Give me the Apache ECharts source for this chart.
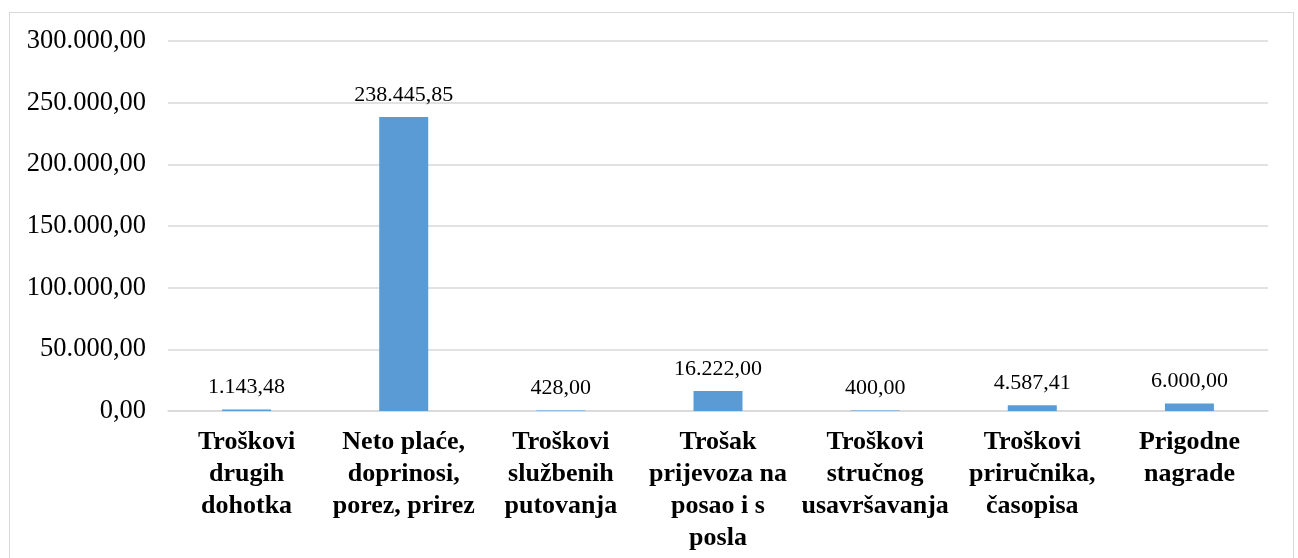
<!DOCTYPE html>
<html>
<head>
<meta charset="utf-8">
<script src="https://cdn.jsdelivr.net/npm/echarts@6/dist/echarts.min.js"></script>
<style>
  html, body { margin: 0; padding: 0; background: #fff; }
  #frame {
    position: absolute; left: 9px; top: 12px;
    width: 1285px; height: 560px;
    border: 1px solid #d9d9d9; box-sizing: border-box;
  }
  #chart { position: absolute; left: 0; top: 0; width: 1298px; height: 558px; }
</style>
</head>
<body>
<div id="frame"></div>
<div id="chart"></div>
<script>
  // kategorije troškova
  const categories = [
    'Troškovi\ndrugih\ndohotka',
    'Neto plaće,\ndoprinosi,\nporez, prirez',
    'Troškovi\nslužbenih\nputovanja',
    'Trošak\nprijevoza na\nposao i s\nposla',
    'Troškovi\nstručnog\nusavršavanja',
    'Troškovi\npriručnika,\nčasopisa',
    'Prigodne\nnagrade'
  ]
  const values = [1143.48, 238445.85, 428.00, 16222.00, 400.00, 4587.41, 6000.00]
  const yMax = 300000
  const yStep = 50000

  // 1234567.8 -> "1.234.567,80"
  function fmt(v) {
    const parts = v.toFixed(2).split('.')
    const int = parts[0].replace(/\B(?=(\d{3})+(?!\d))/g, '.')
    return int + ',' + parts[1]
  }

  const serif = '"Liberation Serif", "DejaVu Serif", serif'
  const myChart = echarts.init(document.getElementById('chart'))
  const option = {
    animation: false,
    grid: { left: 168, right: 30, top: 41, bottom: 147 },
    xAxis: {
      type: 'category',
      data: categories,
      axisLine: { lineStyle: { color: '#d9d9d9', width: 1.5 } },
      axisTick: { show: false },
      axisLabel: {
        interval: 0,
        margin: 15,
        color: '#000',
        fontFamily: serif,
        fontWeight: 'bold',
        fontSize: 26,
        lineHeight: 32,
        verticalAlign: 'top'
      }
    },
    yAxis: {
      type: 'value',
      min: 0,
      max: yMax,
      interval: yStep,
      axisLine: { show: false },
      axisTick: { show: false },
      splitLine: { lineStyle: { color: '#d9d9d9', width: 1.5 } },
      axisLabel: {
        margin: 22,
        color: '#000',
        fontFamily: serif,
        fontSize: 26.5,
        formatter: function (v) { return fmt(v) }
      }
    },
    series: [{
      type: 'bar',
      data: values,
      barWidth: 49,
      itemStyle: { color: '#5b9bd5' },
      label: {
        show: true,
        position: 'top',
        distance: 11,
        color: '#000',
        fontFamily: serif,
        fontSize: 22,
        formatter: function (p) { return fmt(p.value) }
      }
    }]
  }
  myChart.setOption(option)
</script>
</body>
</html>
